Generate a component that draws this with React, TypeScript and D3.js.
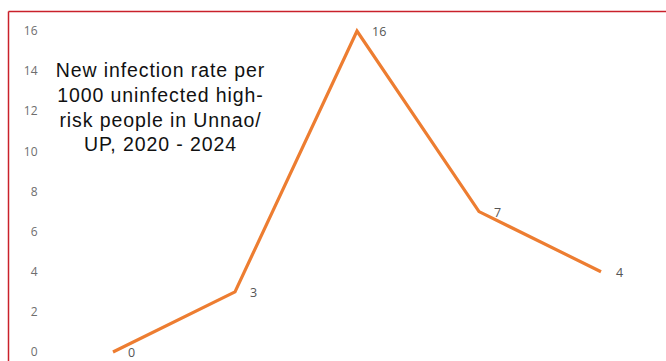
import React from "react";
import * as d3 from "d3";

// Years covered by the series
const years = ["2020", "2021", "2022", "2023", "2024"];
// New infections per 1000 uninfected high-risk people
const rates = [0, 3, 16, 7, 4];
// Vertical axis tick values
const yTicks = [0, 2, 4, 6, 8, 10, 12, 14, 16];
const titleLines = [
  "New infection rate per",
  "1000 uninfected high-",
  "risk people in Unnao/",
  "UP, 2020 - 2024",
];

const W = 666;
const H = 361;

export default function App() {
  const x = d3.scalePoint<string>().domain(years).range([113, 601]);
  const y = d3.scaleLinear().domain([0, 16]).range([352, 31]);
  const line = d3
    .line<number>()
    .x((_, i) => x(years[i]) as number)
    .y((d) => y(d));

  return (
    <svg
      width={W}
      height={H}
      style={{ position: "fixed", left: 0, top: 0, background: "#fff" }}
    >
      <rect x={0} y={0} width={W} height={H} fill="#fff" />
      {/* frame */}
      <line x1={8.5} y1={11.5} x2={W} y2={11.5} stroke="#c9212b" strokeWidth={1.5} />
      <line x1={8.5} y1={11.5} x2={8.5} y2={H} stroke="#c9212b" strokeWidth={1.5} />

      {/* y tick labels */}
      {yTicks.map((t) => (
        <text
          key={t}
          x={37.5}
          y={y(t)}
          dy="0.35em"
          textAnchor="end"
          fontFamily="'Open Sans', sans-serif"
          fontSize={12}
          fill="#6e6e6e"
        >
          {t}
        </text>
      ))}

      <path
        d={line(rates) ?? ""}
        fill="none"
        stroke="#ed7d31"
        strokeWidth={3.2}
        strokeLinejoin="miter"
      />

      {/* value labels */}
      {rates.map((v, i) => (
        <text
          key={i}
          x={(x(years[i]) as number) + 15}
          y={y(v) + 1}
          dy="0.35em"
          fontFamily="'Open Sans', sans-serif"
          fontSize={12.5}
          fill="#555"
        >
          {v}
        </text>
      ))}

      {/* title */}
      {titleLines.map((t, i) => (
        <text
          key={i}
          x={160.5}
          y={77 + i * 24.8}
          textAnchor="middle"
          fontFamily="'Liberation Sans', Arial, sans-serif"
          fontSize={19.5}
          letterSpacing={0.9}
          fill="#111"
        >
          {t}
        </text>
      ))}
    </svg>
  );
}
